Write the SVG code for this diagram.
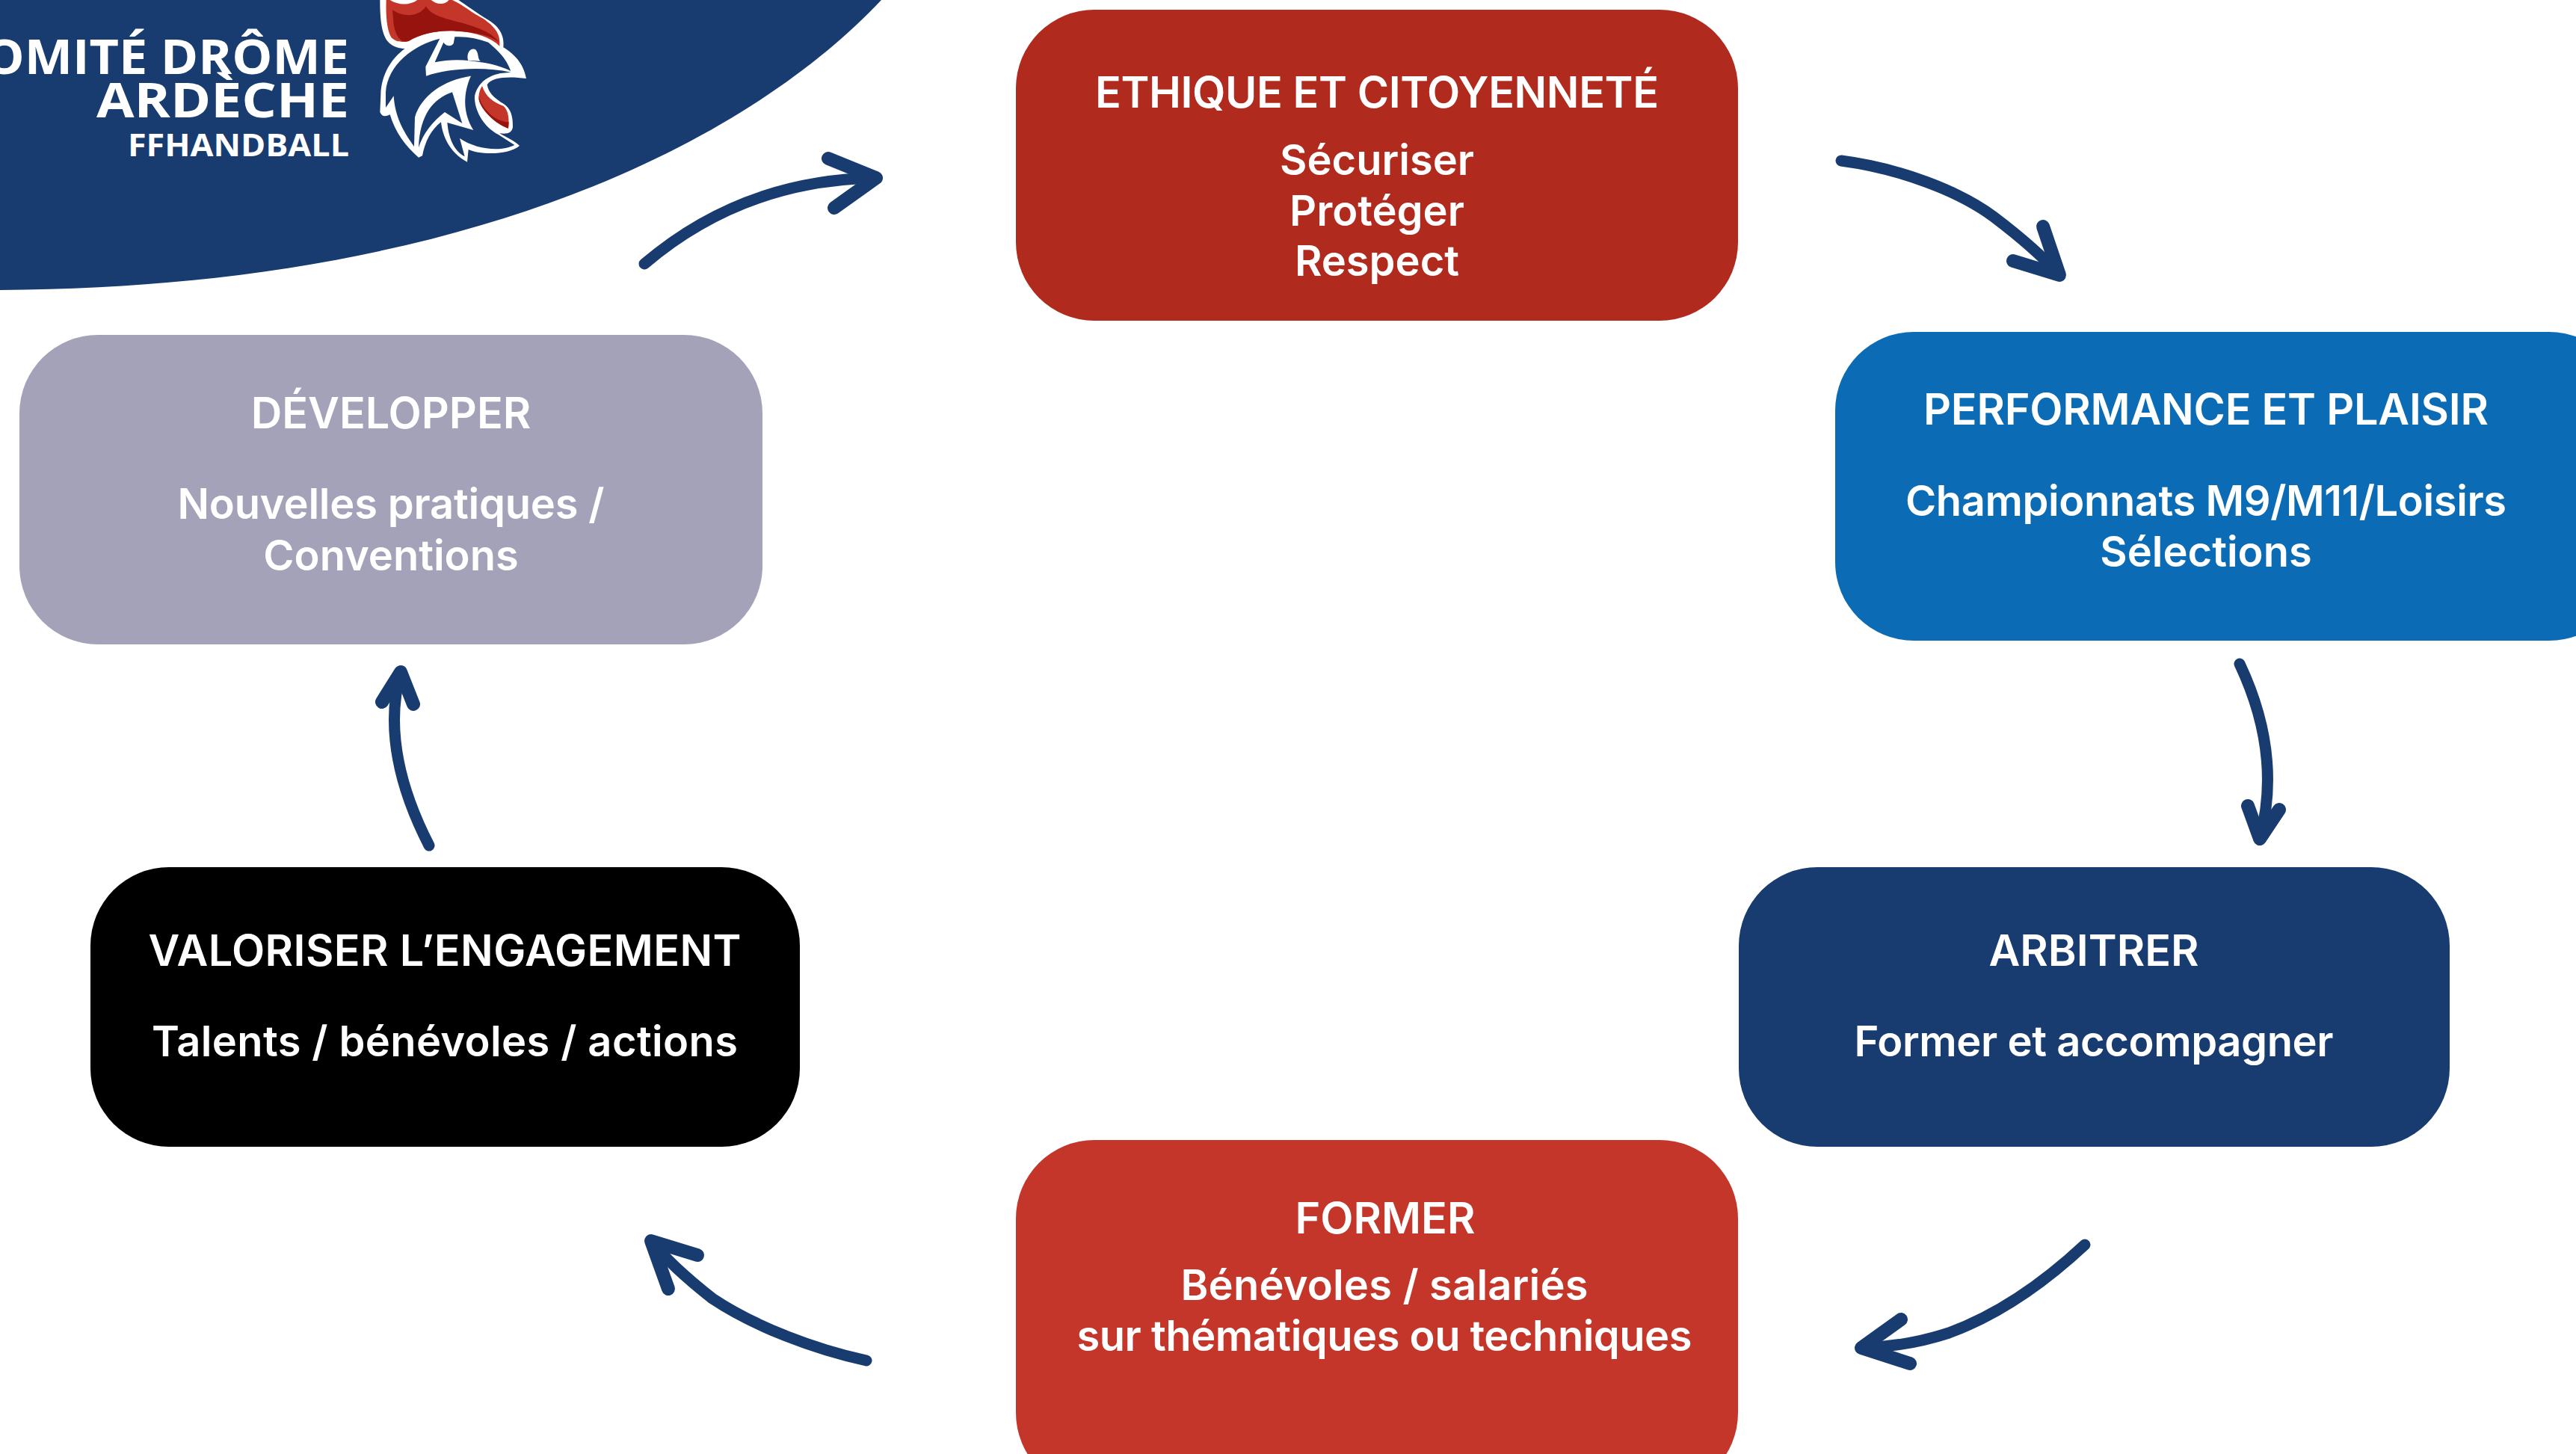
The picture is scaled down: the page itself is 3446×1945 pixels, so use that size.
<svg xmlns="http://www.w3.org/2000/svg" width="3446" height="1945" viewBox="0 0 3446 1945">
<style>
text{font-family:"Inter","Liberation Sans",sans-serif;font-weight:600;fill:#fff;text-anchor:middle}
.h{font-size:57.5px}.b{font-size:56px}
.logo{font-family:"Open Sans","Liberation Sans",sans-serif;font-weight:700;text-anchor:end}
.ar{fill:none;stroke:#193C70;stroke-width:15;stroke-linecap:round;stroke-linejoin:round}
.hd{stroke-width:18}
.navy{fill:#193C70}.red{fill:#C4352A}.dark{fill:#97140E}.white{fill:#fff}
</style>
<rect width="3446" height="1945" fill="#fff"/>
<g id="logo">
<path d="M0,0H1179C1000,190 620,385 0,388Z" class="navy"/>
<text class="logo" x="467" y="99" font-size="64" textLength="532" lengthAdjust="spacingAndGlyphs">COMITÉ DRÔME</text>
<text class="logo" x="467" y="157" font-size="64" textLength="338" lengthAdjust="spacingAndGlyphs">ARDÈCHE</text>
<text class="logo" x="467" y="209" font-size="41" textLength="296" lengthAdjust="spacingAndGlyphs">FFHANDBALL</text>
<g transform="translate(480,0) scale(.3333)">
<path class="white" d="M85,0C85,60 88,130 115,165C135,190 165,195 185,195C130,235 90,300 88,380L85,450Q95,475 125,460C145,530 190,590 240,632L255,625C265,570 290,520 330,490C335,540 360,610 435,650L440,600C480,620 600,625 645,585C625,565 590,550 565,535C600,540 615,530 618,510C620,450 600,425 570,410C540,390 520,370 515,340C530,310 600,305 672,315C660,250 620,215 580,190C585,150 570,110 520,80C470,50 430,20 400,0Z"/>
<path class="red" d="M110,0C108,60 112,120 130,150C150,170 175,170 200,165C260,130 330,120 400,125C470,130 530,150 565,185C570,130 540,105 500,75C450,50 420,20 375,0Z"/>
<path class="dark" d="M135,40C180,70 240,70 270,25C290,70 380,80 440,100C490,115 545,140 562,170C530,140 460,128 390,125C320,120 250,135 200,165C170,175 150,150 140,100Z"/>
<path class="white" d="M125,0C160,22 205,22 235,0ZM290,0C310,18 345,22 362,0Z"/>
<path class="navy" d="M325,155C220,180 115,260 108,370L108,432L140,385C145,470 180,530 222,588L225,470C250,385 340,320 450,305C390,300 330,290 270,305L268,268Z"/>
<path class="navy" d="M375,370C300,395 245,460 240,592C258,535 295,490 345,450L415,495Z"/>
<path class="navy" d="M450,303C500,280 560,285 610,290C540,290 480,320 465,385C462,440 500,510 560,540L625,582C570,610 470,600 405,555L425,628C380,605 360,550 355,492L460,522C415,450 420,370 450,305ZM270,305C350,275 500,265 610,290L450,305Z"/>
<path class="navy" d="M385,148L380,175C370,190 350,185 340,170L305,250C370,235 440,240 490,250C530,255 580,270 610,285C590,230 560,205 520,170C480,155 430,145 385,148Z"/>
<path class="white" d="M438,242C430,205 455,188 470,200C482,215 476,235 488,245Z"/>
<path class="red" d="M495,345C510,390 540,410 580,425C600,440 605,480 600,515C550,500 490,440 482,400C480,380 485,360 495,345Z"/>
<path class="dark" d="M482,385C490,425 520,455 545,472C565,485 585,490 602,490L600,515C550,500 490,440 482,400Z"/>
</g>
</g>
<g id="connectors">
<path class="ar" d="M862,353C930,295 1030,240 1172,238"/><path class="ar hd" d="M1108,212L1172,238L1116,278"/>
<path class="ar" d="M2463,215C2540,225 2620,255 2667,290C2700,315 2730,340 2755,368"/><path class="ar hd" d="M2733,303L2755,368L2693,349"/>
<path class="ar" d="M2996,888C3030,960 3045,1040 3023,1122"/><path class="ar hd" d="M3007,1078L3023,1122L3049,1083"/>
<path class="ar" d="M2789,1665C2730,1720 2670,1760 2607,1783C2570,1795 2530,1802 2490,1803"/><path class="ar hd" d="M2543,1765L2490,1803L2555,1824"/>
<path class="ar" d="M1159,1820C1090,1805 1010,1775 953,1737C925,1715 895,1690 871,1660"/><path class="ar hd" d="M933,1679L871,1660L894,1724"/>
<path class="ar" d="M574,1131C535,1055 515,975 536,899"/><path class="ar hd" d="M511,939L536,899L553,942"/>
</g>
<g id="ethique">
<rect x="1359" y="13" width="966" height="416" rx="105" fill="#B02A1E"/>
<text class="h" x="1842" y="144" textLength="754">ETHIQUE ET CITOYENNETÉ</text>
<text class="b" x="1842" y="234">Sécuriser</text>
<text class="b" x="1842" y="302">Protéger</text>
<text class="b" x="1842" y="369">Respect</text>
</g>
<g id="performance">
<rect x="2455" y="444" width="1060" height="413" rx="105" fill="#0B6CB5"/>
<text class="h" x="2951" y="568" textLength="756">PERFORMANCE ET PLAISIR</text>
<text class="b" x="2951" y="690" textLength="804">Championnats M9/M11/Loisirs</text>
<text class="b" x="2951" y="758">Sélections</text>
</g>
<g id="arbitrer">
<rect x="2326" y="1160" width="951" height="374" rx="105" fill="#193C70"/>
<text class="h" x="2801" y="1292">ARBITRER</text>
<text class="b" x="2801" y="1413" textLength="641">Former et accompagner</text>
</g>
<g id="former">
<rect x="1359" y="1525" width="966" height="470" rx="105" fill="#C4352A"/>
<text class="h" x="1853" y="1650">FORMER</text>
<text class="b" x="1852" y="1739" textLength="545">Bénévoles / salariés</text>
<text class="b" x="1852" y="1807" textLength="823">sur thématiques ou techniques</text>
</g>
<g id="valoriser">
<rect x="121" y="1160" width="949" height="374" rx="105" fill="#000"/>
<text class="h" x="595" y="1292" textLength="793">VALORISER L’ENGAGEMENT</text>
<text class="b" x="595" y="1413" textLength="784">Talents / bénévoles / actions</text>
</g>
<g id="developper">
<rect x="26" y="448" width="994" height="414" rx="105" fill="#A4A2B8"/>
<text class="h" x="523" y="573">DÉVELOPPER</text>
<text class="b" x="523" y="694" textLength="571">Nouvelles pratiques /</text>
<text class="b" x="523" y="763">Conventions</text>
</g>
</svg>
